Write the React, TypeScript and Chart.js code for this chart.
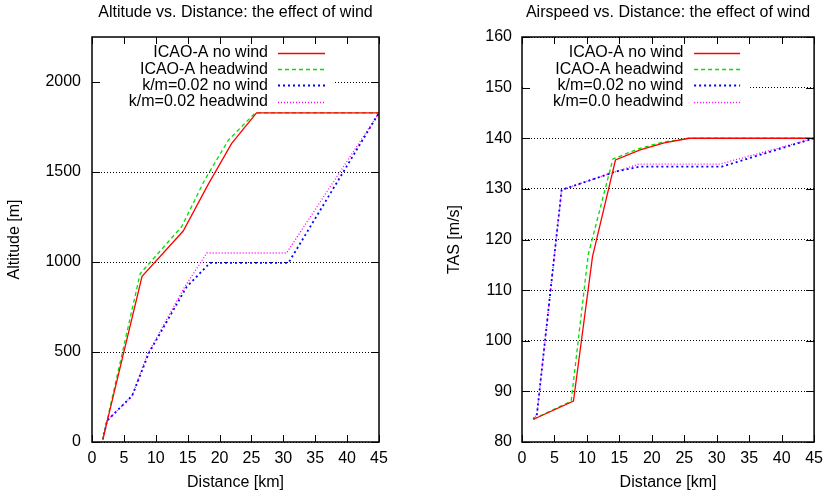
import React, { useEffect, useRef } from "react";
import { Chart, registerables } from "chart.js";

Chart.register(...registerables);

// ---------- Data: Altitude vs Distance ----------
const altRedX = [1.7, 7.85, 14.3, 18.2, 21.9, 25.8, 45];
const altRedY = [15, 920, 1172, 1430, 1659, 1829, 1829];
const altGreenX = [1.7, 7.55, 14.05, 17.7, 21.4, 25.6, 45];
const altGreenY = [15, 935, 1196, 1458, 1678, 1829, 1829];
const altBlueX = [1.7, 2.35, 6.3, 8.9, 14.8, 18.5, 30.8, 45];
const altBlueY = [15, 118, 257, 493, 860, 995, 995, 1829];
const altMagX = [1.7, 2.35, 6.3, 8.6, 14.4, 18.0, 30.5, 45];
const altMagY = [15, 118, 257, 480, 854, 1050, 1050, 1829];
const altLabels = ["ICAO-A no wind", "ICAO-A headwind", "k/m=0.02 no wind", "k/m=0.02 headwind"];
const altTicks = [0, 500, 1000, 1500, 2000];

// ---------- Data: Airspeed vs Distance ----------
const tasRedX = [1.77, 7.93, 10.86, 14.4, 18.2, 21.9, 25.8, 45];
const tasRedY = [84.5, 88.1, 116.6, 135.7, 137.7, 139.1, 140, 140];
const tasGreenX = [1.77, 7.58, 10.2, 14.0, 17.9, 21.6, 25.6, 45];
const tasGreenY = [84.5, 88.1, 117, 135.9, 137.9, 139.2, 140, 140];
const tasBlueX = [1.77, 2.3, 6.1, 14.4, 18.2, 30.8, 45];
const tasBlueY = [84.5, 85.5, 129.8, 133.4, 134.4, 134.4, 140];
const tasMagX = [1.77, 2.3, 6.1, 14.4, 18.0, 30.5, 45];
const tasMagY = [84.5, 85.5, 129.8, 133.4, 134.9, 134.9, 140];
const tasLabels = ["ICAO-A no wind", "ICAO-A headwind", "k/m=0.02 no wind", "k/m=0.0 headwind"];
const tasTicks = [80, 90, 100, 110, 120, 130, 140, 150, 160];

// x axis
const xTicks = [0, 5, 10, 15, 20, 25, 30, 35, 40, 45];
const xMin = 0, xMax = 45;
const altMin = 0, altMax = 2250;
const tasMin = 80, tasMax = 160;

const FONT = "'Liberation Sans', Arial, Helvetica, sans-serif";

const styles = [
  { color: "#ff0000", dash: [] as number[], width: 1.3 },
  { color: "#00e000", dash: [4, 3], width: 1.3 },
  { color: "#0000ff", dash: [2, 3], width: 1.8 },
  { color: "#ff00ff", dash: [1, 2], width: 1.3 },
];

function pts(xs: number[], ys: number[]) {
  return xs.map((x, i) => ({ x, y: ys[i] }));
}

const keyPlugin = {
  id: "gpKey",
  afterDatasetsDraw(chart: any, _args: any, opts: any) {
    const { ctx, chartArea } = chart;
    const textRight = chartArea.right - opts.textRightOffset;
    const s1 = textRight + opts.gap;
    const s2 = s1 + opts.sampleLen;
    const boxRight = s2 + opts.boxPad;
    const dsets = chart.data.datasets;
    ctx.save();
    ctx.fillStyle = "#ffffff";
    ctx.fillRect(chartArea.left + 1, chartArea.top + 7, boxRight - chartArea.left - 1, opts.rowH * dsets.length + 1);
    ctx.font = `16px ${FONT}`;
    ctx.textAlign = "right";
    ctx.textBaseline = "middle";
    dsets.forEach((ds: any, i: number) => {
      const y = chartArea.top + opts.firstRow + i * opts.rowH;
      ctx.fillStyle = "#000";
      ctx.fillText(ds.label, textRight, y);
      ctx.strokeStyle = ds.borderColor;
      ctx.lineWidth = ds.borderWidth;
      ctx.setLineDash(ds.borderDash || []);
      ctx.beginPath();
      ctx.moveTo(s1, Math.round(y) + 0.5);
      ctx.lineTo(s2, Math.round(y) + 0.5);
      ctx.stroke();
    });
    ctx.restore();
  },
};

const framePlugin = {
  id: "gpFrame",
  afterDraw(chart: any) {
    const { ctx, chartArea } = chart;
    const { left, right, top, bottom } = chartArea;
    const xs = chart.scales.x;
    const ys = chart.scales.y;
    ctx.save();
    ctx.setLineDash([]);
    ctx.strokeStyle = "#000";
    ctx.lineWidth = 1;
    ctx.beginPath();
    ys.ticks.forEach((t: any) => {
      const p = Math.round(ys.getPixelForValue(t.value)) + 0.5;
      ctx.moveTo(left, p);
      ctx.lineTo(left + 8, p);
      ctx.moveTo(right, p);
      ctx.lineTo(right - 8, p);
    });
    xs.ticks.forEach((t: any) => {
      const p = Math.round(xs.getPixelForValue(t.value)) + 0.5;
      ctx.moveTo(p, bottom);
      ctx.lineTo(p, bottom - 7);
      ctx.moveTo(p, top);
      ctx.lineTo(p, top + 7);
    });
    ctx.stroke();
    ctx.lineWidth = 1.5;
    ctx.strokeRect(left, top, right - left, bottom - top);
    ctx.restore();
  },
};

type PanelProps = {
  title: string;
  yTitle: string;
  labels: string[];
  series: { xs: number[]; ys: number[] }[];
  yMin: number;
  yMax: number;
  yTicks: number[];
  yWidth: number;
  yTitlePad: number;
  yTickPad: number;
  padRight: number;
  legendOpts: { textRightOffset: number; gap: number; sampleLen: number; boxPad: number; firstRow: number; rowH: number };
};

function Panel(p: PanelProps) {
  const ref = useRef<HTMLCanvasElement>(null);
  useEffect(() => {
    if (!ref.current) return;
    const chart = new Chart(ref.current, {
      type: "line",
      data: {
        datasets: p.series.map((s, i) => ({
          label: p.labels[i],
          data: pts(s.xs, s.ys),
          borderColor: styles[i].color,
          backgroundColor: styles[i].color,
          borderDash: styles[i].dash,
          borderWidth: styles[i].width,
          pointRadius: 0,
          tension: 0,
          fill: false,
        })),
      },
      options: {
        responsive: false,
        animation: false,
        devicePixelRatio: 1,
        layout: { padding: { left: 0, right: p.padRight, top: 0, bottom: 0 } },
        plugins: {
          legend: { display: false },
          tooltip: { enabled: false },
          title: {
            display: true,
            text: p.title,
            color: "#000",
            fullSize: false,
            font: { family: FONT, size: 16, weight: "normal" },
            padding: { top: 2.6, bottom: 15.2 },
          },
          gpKey: p.legendOpts,
        } as any,
        scales: {
          x: {
            type: "linear",
            min: xMin,
            max: xMax,
            afterBuildTicks: (s: any) => {
              s.ticks = xTicks.map((v) => ({ value: v }));
            },
            afterFit: (s: any) => {
              s.height = 52;
            },
            grid: { display: false, drawTicks: false },
            border: { display: false },
            ticks: {
              color: "#000",
              padding: 7,
              maxRotation: 0,
              autoSkip: false,
              callback: (v: any) => String(v),
              font: { family: FONT, size: 16 },
            },
            title: {
              display: true,
              text: "Distance [km]",
              color: "#000",
              font: { family: FONT, size: 16 },
              padding: { top: 0, bottom: 2 },
            },
          },
          y: {
            type: "linear",
            min: p.yMin,
            max: p.yMax,
            afterBuildTicks: (s: any) => {
              s.ticks = p.yTicks.map((v) => ({ value: v }));
            },
            afterFit: (s: any) => {
              s.width = p.yWidth;
            },
            grid: { display: true, drawTicks: false, color: "#000", lineWidth: 1 },
            border: { display: false, dash: [1, 2] },
            ticks: {
              color: "#000",
              padding: p.yTickPad,
              autoSkip: false,
              callback: (v: any) => String(v),
              font: { family: FONT, size: 16 },
            },
            title: {
              display: true,
              text: p.yTitle,
              color: "#000",
              font: { family: FONT, size: 16 },
              padding: { top: p.yTitlePad, bottom: 0 },
            },
          },
        },
      } as any,
      plugins: [keyPlugin, framePlugin],
    });
    return () => chart.destroy();
  }, []);
  return <canvas ref={ref} width={415} height={494} style={{ display: "block", width: 415, height: 494 }} />;
}

export default function App() {
  return (
    <div style={{ position: "fixed", left: 0, top: 0, width: 830, height: 494, background: "#fff", display: "flex" }}>
      <Panel
        title="Altitude vs. Distance: the effect of wind"
        yTitle="Altitude [m]"
        labels={altLabels}
        series={[
          { xs: altRedX, ys: altRedY },
          { xs: altGreenX, ys: altGreenY },
          { xs: altBlueX, ys: altBlueY },
          { xs: altMagX, ys: altMagY },
        ]}
        yMin={altMin}
        yMax={altMax}
        yTicks={altTicks}
        yWidth={92}
        yTitlePad={5}
        yTickPad={11}
        padRight={36}
        legendOpts={{ textRightOffset: 111, gap: 10, sampleLen: 47, boxPad: 8, firstRow: 16, rowH: 16.2 }}
      />
      <Panel
        title="Airspeed vs. Distance: the effect of wind"
        yTitle="TAS [m/s]"
        labels={tasLabels}
        series={[
          { xs: tasRedX, ys: tasRedY },
          { xs: tasGreenX, ys: tasGreenY },
          { xs: tasBlueX, ys: tasBlueY },
          { xs: tasMagX, ys: tasMagY },
        ]}
        yMin={tasMin}
        yMax={tasMax}
        yTicks={tasTicks}
        yWidth={107}
        yTitlePad={30}
        yTickPad={10}
        padRight={11}
        legendOpts={{ textRightOffset: 130.7, gap: 10.7, sampleLen: 46, boxPad: 10, firstRow: 16, rowH: 16.2 }}
      />
    </div>
  );
}
